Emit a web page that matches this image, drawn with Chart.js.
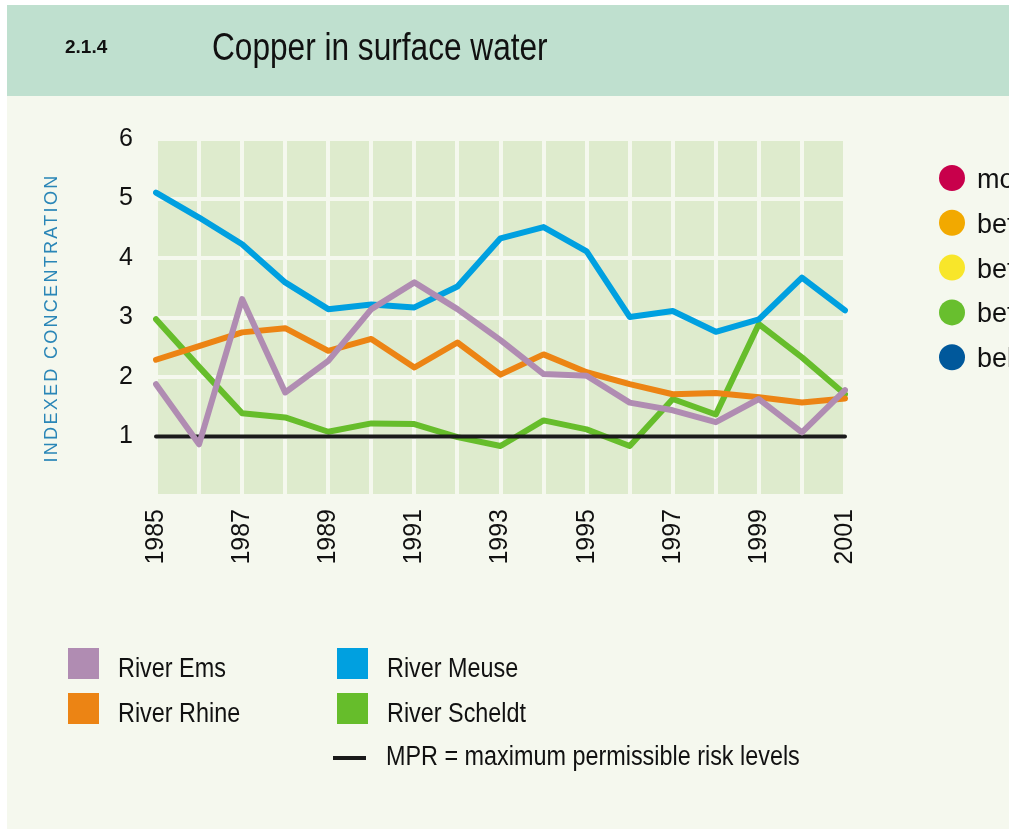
<!DOCTYPE html>
<html>
<head>
<meta charset="utf-8">
<script src="https://cdn.jsdelivr.net/npm/chart.js@4/dist/chart.umd.min.js"></script>
<style>
  html, body { margin: 0; padding: 0; background: #ffffff; }
  #chart { display: block; }
</style>
</head>
<body>
<canvas id="chart" width="1009" height="829"></canvas>
<script>
// values (indexed concentration, MPR = 1)
const years = ['1985','1986','1987','1988','1989','1990','1991','1992','1993',
               '1994','1995','1996','1997','1998','1999','2000','2001'];
const ems     = [1.88, 0.87, 3.31, 1.74, 2.27, 3.14, 3.59, 3.14, 2.62, 2.05, 2.02, 1.57, 1.44, 1.24, 1.63, 1.07, 1.78];
const meuse   = [5.10, 4.68, 4.23, 3.59, 3.14, 3.22, 3.17, 3.52, 4.33, 4.52, 4.11, 3.01, 3.11, 2.76, 2.97, 3.67, 3.12];
const rhine   = [2.29, 2.52, 2.75, 2.82, 2.44, 2.64, 2.16, 2.58, 2.04, 2.38, 2.08, 1.88, 1.71, 1.73, 1.66, 1.57, 1.64];
const scheldt = [2.97, 2.17, 1.39, 1.32, 1.08, 1.22, 1.21, 0.99, 0.84, 1.27, 1.12, 0.84, 1.63, 1.37, 2.89, 2.33, 1.71];
const mpr     = [1, 1, 1, 1, 1, 1, 1, 1, 1, 1, 1, 1, 1, 1, 1, 1, 1];

const seriesNames = ['River Ems', 'River Rhine', 'River Meuse', 'River Scheldt'];
const seriesColors = ['#b08cb2', '#ec8414', '#00a0e0', '#66bd2b'];
const mprLabel = 'MPR = maximum permissible risk levels';

const classLabels = ['more than 4 x MPR', 'between 2 and 4 x MPR', 'between 1 and 2 x MPR',
                     'between 0.5 and 1 x MPR', 'below 0.5 x MPR'];
const classColors = ['#c8004b', '#f2a900', '#f8e62a', '#68bf2e', '#00589b'];

const PAGE_BG = '#f5f8ee';
const PLOT_BG = '#deebcd';
const SANS = '"Liberation Sans", Arial, sans-serif';

// no condensed face installed, so squeeze regular text horizontally
function narrowText(ctx, text, x, y, size, squeeze) {
    ctx.save();
    ctx.translate(x, y);
    ctx.scale(squeeze, 1);
    ctx.font = size + 'px ' + SANS;
    ctx.fillText(text, 0, 0);
    ctx.restore();
}

const decorations = {
    id: 'decorations',
    beforeDraw(chart) {
        const ctx = chart.ctx;
        const a = chart.chartArea;
        ctx.save();
        ctx.fillStyle = '#ffffff';
        ctx.fillRect(0, 0, chart.width, chart.height);
        ctx.fillStyle = PAGE_BG;
        ctx.fillRect(7, 5, chart.width - 7, chart.height - 5);
        ctx.fillStyle = '#bfe0cf';
        ctx.fillRect(7, 5, chart.width - 7, 91);
        ctx.fillStyle = PLOT_BG;
        ctx.fillRect(a.left, a.top, a.right - a.left, a.bottom - a.top);
        ctx.restore();
    },
    afterDraw(chart) {
        const ctx = chart.ctx;
        ctx.save();
        // header
        ctx.fillStyle = '#111111';
        ctx.textBaseline = 'alphabetic';
        ctx.font = 'bold 19px ' + SANS;
        ctx.fillText('2.1.4', 65, 53);
        narrowText(ctx, 'Copper in surface water', 212, 60, 38, 0.832);

        // y axis title
        ctx.save();
        ctx.translate(52, 318);
        ctx.rotate(-Math.PI / 2);
        ctx.fillStyle = '#2a86b7';
        ctx.font = '18px ' + SANS;
        ctx.letterSpacing = '2.3px';
        ctx.textAlign = 'center';
        ctx.textBaseline = 'middle';
        ctx.fillText('INDEXED CONCENTRATION', 0, 0);
        ctx.restore();

        // right-hand class legend (cut off at the page edge)
        classLabels.forEach((label, i) => {
            const cy = 178 + i * 44.8;
            ctx.fillStyle = classColors[i];
            ctx.beginPath();
            ctx.arc(952, cy, 13, 0, Math.PI * 2);
            ctx.fill();
            ctx.fillStyle = '#111111';
            narrowText(ctx, label, 977, cy + 10, 27, 1);
        });

        // bottom legend
        const legendPos = [[68, 648], [68, 693], [337, 648], [337, 693]];
        seriesNames.forEach((name, i) => {
            const [x, y] = legendPos[i];
            ctx.fillStyle = seriesColors[i];
            ctx.fillRect(x, y, 31, 31);
            ctx.fillStyle = '#111111';
            narrowText(ctx, name, x + 50, y + 29, 27, 0.866);
        });
        ctx.strokeStyle = '#1a1a1a';
        ctx.lineWidth = 4;
        ctx.beginPath();
        ctx.moveTo(333, 758);
        ctx.lineTo(366, 758);
        ctx.stroke();
        ctx.fillStyle = '#111111';
        narrowText(ctx, mprLabel, 386, 765, 27, 0.866);
        ctx.restore();
    }
};

function line(label, data, color, width) {
    return {
        label: label,
        data: data,
        borderColor: color,
        backgroundColor: color,
        borderWidth: width,
        pointRadius: 0,
        tension: 0,
        fill: false,
        borderJoinStyle: 'round',
        borderCapStyle: 'round'
    };
}

new Chart(document.getElementById('chart'), {
    type: 'line',
    data: {
        labels: years,
        // first dataset is drawn on top
        datasets: [
            line(seriesNames[0], ems, seriesColors[0], 6),
            line(seriesNames[2], meuse, seriesColors[2], 6),
            line(seriesNames[1], rhine, seriesColors[1], 6),
            line('MPR', mpr, '#1a1a1a', 4),
            line(seriesNames[3], scheldt, seriesColors[3], 6)
        ]
    },
    options: {
        responsive: false,
        animation: false,
        devicePixelRatio: 1,
        layout: { padding: { left: 0, top: 139, right: 164, bottom: 253 } },
        plugins: { legend: { display: false }, tooltip: { enabled: false } },
        scales: {
            x: {
                offset: false,
                afterFit: (scale) => { scale.height = 80; },
                grid: { color: PAGE_BG, lineWidth: 4, drawTicks: false },
                border: { display: false },
                ticks: {
                    autoSkip: false,
                    minRotation: 90,
                    maxRotation: 90,
                    padding: 13,
                    color: '#111111',
                    font: { family: SANS, size: 25 },
                    callback: function (value, index) {
                        return index % 2 === 0 ? this.getLabelForValue(value) : '';
                    }
                }
            },
            y: {
                min: 0,
                max: 6,
                afterFit: (scale) => { scale.width = 156; },
                grid: { color: PAGE_BG, lineWidth: 4, drawTicks: false },
                border: { display: false },
                ticks: {
                    stepSize: 1,
                    padding: 23,
                    color: '#111111',
                    font: { family: SANS, size: 25 },
                    callback: (v) => (v === 0 ? '' : v)
                }
            }
        }
    },
    plugins: [decorations]
});
</script>
</body>
</html>
